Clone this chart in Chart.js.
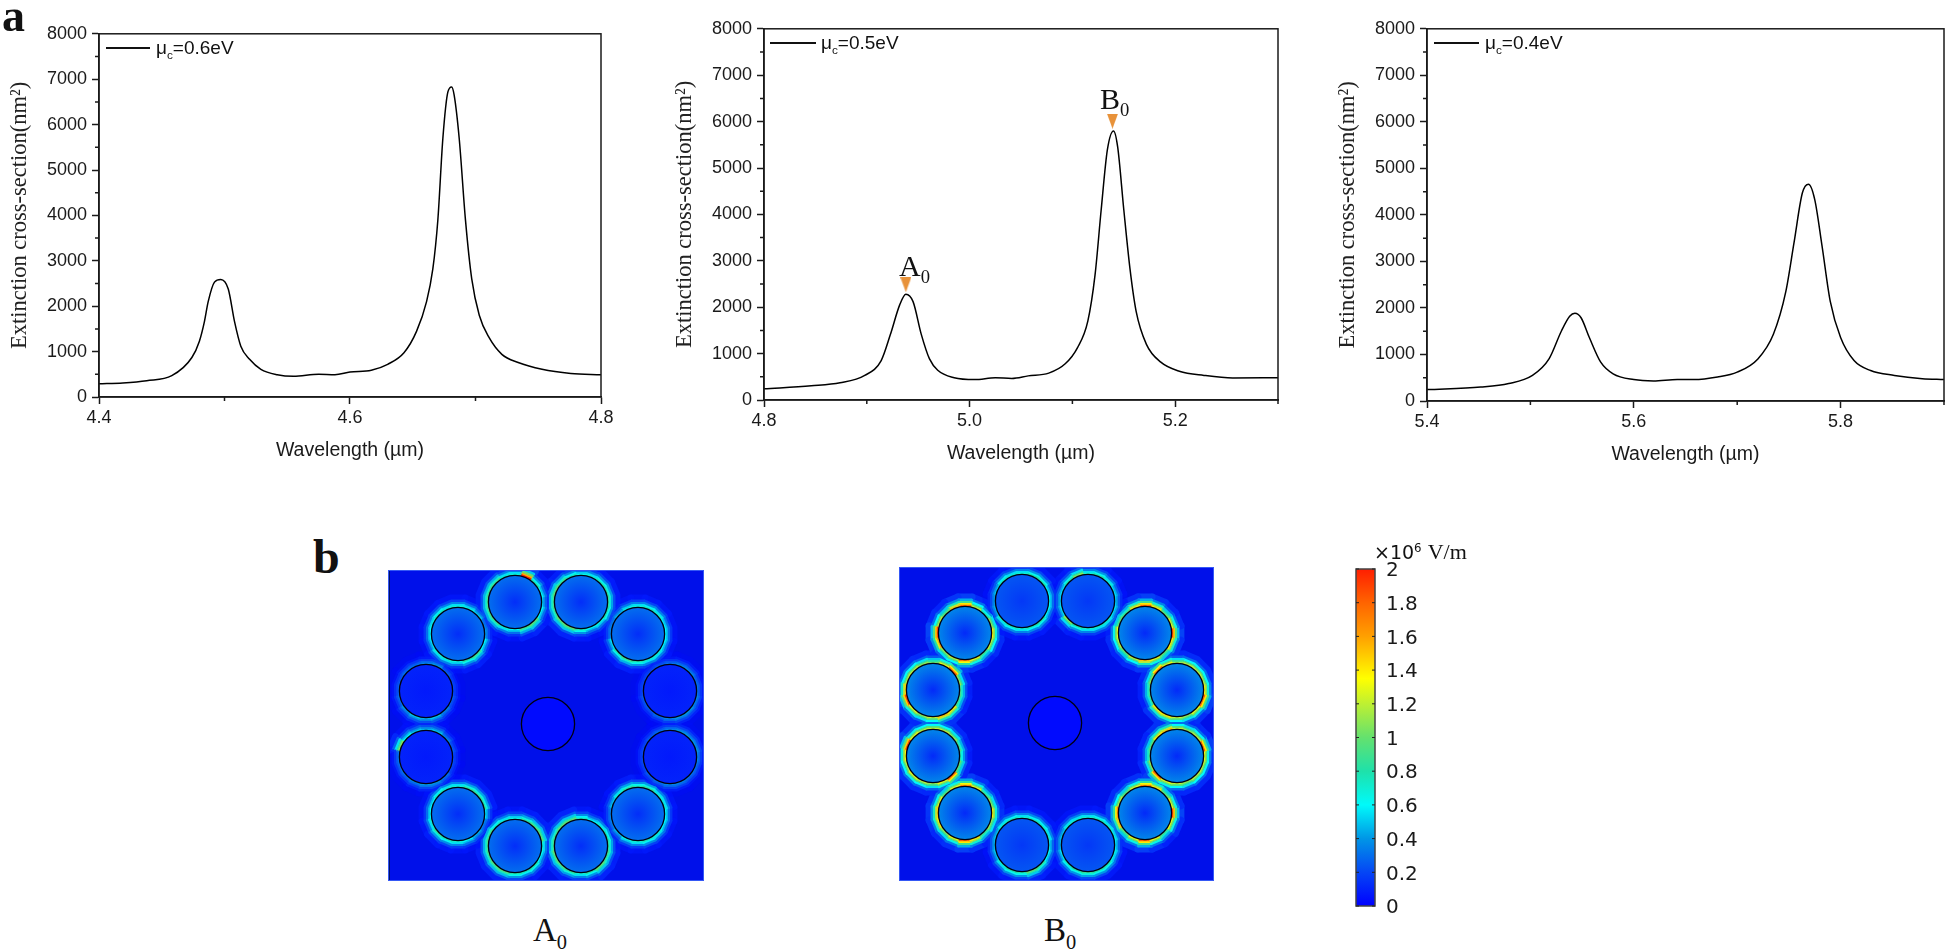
<!DOCTYPE html>
<html>
<head>
<meta charset="utf-8">
<title>Extinction cross-section</title>
<script src="https://cdn.jsdelivr.net/npm/chart.js@4"></script>
<style>
    html, body { margin: 0; background: #fff; width: 1946px; height: 950px; overflow: hidden; }
    canvas { position: absolute; }
    .lab { position: absolute; line-height: 1; white-space: nowrap; color: #111; }
    .serif { font-family: 'Liberation Serif', serif; }
    .sans { font-family: 'Liberation Sans', sans-serif; }
    .dejavu { font-family: 'DejaVu Sans', sans-serif; }
    .lab sub, .lab sup { line-height: 0; font-size: 62%; }
    .key { position: absolute; height: 2px; background: #111; }
    .heat { filter: blur(0.5px); outline: 1px solid #3558f5; outline-offset: -1px; }
</style>
</head>
<body>
<canvas id="c06"></canvas>
<canvas id="c05"></canvas>
<canvas id="c04"></canvas>
<canvas id="mapA" class="heat"></canvas>
<canvas id="mapB" class="heat"></canvas>
<canvas id="bar"></canvas>
<div style="position:absolute;left:389px;top:571px;width:1px;height:309px;background:#00106a"></div>

<div class="lab serif" style="left:2px;top:-7px;font-size:46px;font-weight:bold">a</div>
<div class="lab serif" style="left:313px;top:533px;font-size:48px;font-weight:bold">b</div>

<div class="key" style="left:106px;top:47px;width:44px"></div>
<div class="lab sans" style="left:156px;top:38px;font-size:19px">μ<sub>c</sub>=0.6eV</div>
<div class="key" style="left:770px;top:42px;width:46px"></div>
<div class="lab sans" style="left:821px;top:33px;font-size:19px">μ<sub>c</sub>=0.5eV</div>
<div class="key" style="left:1434px;top:42px;width:45px"></div>
<div class="lab sans" style="left:1485px;top:33px;font-size:19px">μ<sub>c</sub>=0.4eV</div>

<div class="lab serif" style="left:899px;top:251px;font-size:30px">A<sub>0</sub></div>
<div class="lab serif" style="left:1100px;top:84px;font-size:30px">B<sub>0</sub></div>
<div class="lab serif" style="left:533px;top:914px;font-size:33px">A<sub>0</sub></div>
<div class="lab serif" style="left:1044px;top:914px;font-size:33px">B<sub>0</sub></div>
<div class="lab dejavu" style="left:1374px;top:541px;font-size:19px">×10<sup>6</sup> <span class="serif" style="font-size:22px">V/m</span></div>

<script>
// spectra
const x06 = [4.4, 4.419, 4.438, 4.458, 4.474, 4.48, 4.484, 4.487, 4.492, 4.497, 4.503, 4.508, 4.513, 4.52, 4.529, 4.542, 4.555, 4.575, 4.588, 4.6, 4.617, 4.63, 4.643, 4.653, 4.661, 4.666, 4.67, 4.674, 4.678, 4.681, 4.683, 4.687, 4.692, 4.697, 4.703, 4.711, 4.721, 4.734, 4.753, 4.776, 4.8];
const y06 = [290, 310, 360, 470, 870, 1230, 1660, 2100, 2530, 2590, 2380, 1660, 1120, 830, 610, 490, 455, 500, 490, 550, 590, 720, 975, 1445, 2100, 2820, 3900, 5700, 6720, 6830, 6650, 5700, 3900, 2600, 1800, 1300, 940, 760, 610, 520, 490];

const x05 = [4.8, 4.846, 4.874, 4.898, 4.914, 4.923, 4.932, 4.938, 4.945, 4.953, 4.961, 4.969, 4.985, 5.005, 5.025, 5.041, 5.057, 5.077, 5.093, 5.105, 5.115, 5.122, 5.128, 5.134, 5.14, 5.144, 5.15, 5.156, 5.162, 5.172, 5.186, 5.204, 5.228, 5.256, 5.3];
const y05 = [240, 305, 370, 530, 850, 1415, 2050, 2280, 2120, 1415, 885, 640, 480, 440, 480, 465, 520, 580, 780, 1130, 1700, 2690, 4100, 5390, 5800, 5460, 4100, 2830, 1910, 1200, 815, 620, 530, 475, 480];

const x04 = [5.4, 5.452, 5.479, 5.502, 5.518, 5.53, 5.538, 5.543, 5.549, 5.557, 5.568, 5.58, 5.6, 5.619, 5.642, 5.658, 5.681, 5.7, 5.72, 5.735, 5.747, 5.755, 5.763, 5.769, 5.775, 5.782, 5.79, 5.8, 5.813, 5.829, 5.852, 5.879, 5.9];
const y04 = [245, 300, 375, 550, 905, 1505, 1820, 1885, 1790, 1365, 835, 585, 460, 430, 460, 460, 515, 620, 905, 1435, 2350, 3410, 4470, 4660, 4330, 3340, 2140, 1365, 870, 655, 550, 480, 460];

const yMajor = [0, 1000, 2000, 3000, 4000, 5000, 6000, 7000, 8000];
const yMinor = [500, 1500, 2500, 3500, 4500, 5500, 6500, 7500];
const xMajor06 = [4.4, 4.6, 4.8];
const xMinor06 = [4.5, 4.7];
const xMajor05 = [4.8, 5.0, 5.2];
const xMinor05 = [4.9, 5.1, 5.3];
const xMajor04 = [5.4, 5.6, 5.8];
const xMinor04 = [5.5, 5.7, 5.9];

const markerX = [4.938, 5.139];
const markerY = [2484, 6010];

// field maps: ring centres (nm-like units around the middle rod)
const ringX = [-33, 33, -90, 90, -122, 122, -122, 122, -90, 90, -33, 33];
const ringY = [122, 122, 90, 90, 33, 33, -33, -33, -90, -90, -122, -122];
const ringR = 26.6;

// field next to each ring, 16 sectors counter-clockwise from east (x10^6 V/m)
const fieldA = [
    [.5, .6, .8, 2, .7, .7, .9, .9, .9, .9, .9, .7, .6, .9, 1, .6],
    [.85, .85, .8, .7, .65, .75, .9, 1, .9, .9, 1, 1, .8, .6, .65, .8],
    [.4, .35, .5, .65, .7, .7, .75, .65, .6, .55, .7, .7, .65, .8, .9, .6],
    [.6, .6, .7, .75, .7, .65, .45, .35, .35, .55, .8, .9, .8, .7, .7, .6],
    [.2, .2, .25, .4, .35, .3, .3, .25, .25, .3, .4, .5, .45, .5, .35, .25],
    [.3, .3, .35, .35, .3, .25, .2, .2, .2, .25, .25, .3, .35, .4, .4, .35],
    [.2, .25, .35, .5, .45, .5, .6, 1.1, .3, .3, .3, .35, .4, .4, .3, .2],
    [.35, .4, .4, .4, .35, .3, .25, .2, .2, .2, .25, .3, .35, .35, .3, .3],
    [.55, .85, .85, .85, .7, .7, .75, .6, .6, .7, .85, .75, .7, .6, .45, .35],
    [.6, .7, .7, .85, .8, .85, .7, .5, .35, .35, .45, .65, .7, .75, .7, .6],
    [.7, 1, .95, .85, .65, .7, .75, .9, .9, .9, .95, .95, .8, .75, .8, .6],
    [.85, .8, .7, .6, .75, 1, 1, .9, .9, 1, .95, .85, .7, .8, 1, .9]
];
const fieldB = [
    [.6, .6, .8, .8, .7, .7, .75, .5, .4, .45, .7, .75, .7, .75, .8, .6],
    [.5, .55, .7, .8, .7, 1.1, .8, .55, .5, .55, 1.1, .8, .7, .7, .7, .55],
    [1.4, 1.1, .8, 1.2, 1.8, 1.5, 1, 1.2, 1.9, 1.6, 1.1, 1.2, 1.7, 1.3, .9, 1.2],
    [1.9, 1.3, 1, 1.4, 1.8, 1.4, .9, 1, 1.3, 1.2, 1, 1.2, 1.5, 1.3, 1, 1.4],
    [.9, 1.1, 1.8, 1.3, 1, 1.1, 1.2, 1.2, 1.5, 1.9, 1.3, 1.1, 1.2, 1.5, 1.4, .9],
    [1.4, 1.2, 1.2, 1.2, 1.1, 1.3, 1.7, 1.1, .9, .9, 1.4, 1.4, 1.2, 1.1, 1.3, 1.8],
    [.8, .9, 1.1, 1.2, 1.2, 1.2, 1.3, 1.9, 1.4, 1.2, 1.3, 1.2, 1.1, 1.3, 1.8, 1],
    [1.3, 1.8, 1.2, 1.1, 1.2, 1.5, 1.4, 1, .9, 1.1, 1.8, 1.3, 1.2, 1.1, 1.2, 1.2],
    [1.4, 1.1, .9, 1.3, 1.7, 1.3, 1, 1.3, 1.5, 1.4, 1.1, 1.3, 1.8, 1.4, .9, 1.1],
    [1.9, 1.3, 1, 1.4, 1.7, 1.3, 1, 1.2, 1.7, 1.5, 1, 1.3, 1.8, 1.3, .9, 1.3],
    [.55, .7, .75, .75, .7, .75, .7, .5, .45, .5, .7, .8, .8, 1, .85, .6],
    [.55, .65, .7, .75, .7, .7, .7, .5, .45, .55, .75, .8, .85, .8, .8, .65]
];
// inside each ring: value at the rim and at the centre (last entry is the middle rod)
const rimA = [.3, .3, .3, .3, .1, .1, .1, .1, .3, .3, .3, .3, .03];
const coreA = [.13, .13, .13, .13, .07, .07, .07, .07, .13, .13, .13, .13, .03];
const rimB = [.24, .24, .36, .36, .36, .36, .36, .36, .36, .36, .24, .24, .03];
const coreB = [.16, .16, .12, .12, .12, .12, .12, .12, .12, .12, .16, .16, .03];

// colour scale
const jetValues = [0, .2, .4, .6, .8, 1, 1.2, 1.35, 1.6, 1.8, 2];
const jetColors = [[0, 0, 255], [5, 70, 245], [0, 150, 230], [0, 250, 250], [30, 225, 170], [100, 225, 110], [190, 240, 50], [255, 255, 0], [255, 160, 0], [255, 100, 0], [255, 30, 0]];
const barTicks = [0, .2, .4, .6, .8, 1, 1.2, 1.4, 1.6, 1.8, 2];

const inkColor = '#1a1a1a';
const mapBackground = '#0010ea';

function jet(v, alpha) {
    v = Math.max(0, Math.min(2, v));
    let i = 0;
    while (i < jetValues.length - 2 && v > jetValues[i + 1]) i++;
    const t = (v - jetValues[i]) / (jetValues[i + 1] - jetValues[i]);
    const c = jetColors[i].map((a, n) => Math.round(a + (jetColors[i + 1][n] - a) * t));
    return 'rgba(' + c[0] + ',' + c[1] + ',' + c[2] + ',' + (alpha === undefined ? 1 : alpha) + ')';
}

function place(id, left, top, width, height) {
    const el = document.getElementById(id);
    el.width = width;
    el.height = height;
    el.style.left = left + 'px';
    el.style.top = top + 'px';
    return el;
}

// box round the plot and the short minor ticks
const framePlugin = {
    id: 'frame',
    afterDraw(chart, args, opts) {
        const a = chart.chartArea;
        const c = chart.ctx;
        c.save();
        c.strokeStyle = inkColor;
        c.lineWidth = 1.5;
        c.strokeRect(a.left, a.top, a.width, a.height);
        c.beginPath();
        opts.xMinor.forEach(v => {
            const p = chart.scales.x.getPixelForValue(v);
            c.moveTo(p, a.bottom);
            c.lineTo(p, a.bottom + 4);
        });
        opts.yMinor.forEach(v => {
            const p = chart.scales.y.getPixelForValue(v);
            c.moveTo(a.left, p);
            c.lineTo(a.left - 4, p);
        });
        c.stroke();
        c.restore();
    }
};

function triangleImage() {
    const t = document.createElement('canvas');
    t.width = 11;
    t.height = 15;
    const c = t.getContext('2d');
    c.fillStyle = '#e8923a';
    c.beginPath();
    c.moveTo(0, 0);
    c.lineTo(11, 0);
    c.lineTo(5.5, 15);
    c.closePath();
    c.fill();
    return t;
}

function spectrum(id, plot, xs, ys, xMajor, xMinor, extra) {
    const padLeft = 92, padTop = 10, padRight = 16, axisHeight = 65;
    const el = place(id, plot.l - padLeft, plot.t - padTop, plot.w + padLeft + padRight, plot.h + padTop + axisHeight);
    const datasets = [{
        data: xs.map((x, i) => ({ x: x, y: ys[i] })),
        borderColor: '#000',
        borderWidth: 1.5,
        pointRadius: 0,
        showLine: true,
        cubicInterpolationMode: 'monotone'
    }].concat(extra || []);
    new Chart(el, {
        type: 'scatter',
        data: { datasets: datasets },
        options: {
            responsive: false,
            animation: false,
            events: [],
            layout: { autoPadding: false, padding: { top: padTop, right: padRight } },
            plugins: {
                legend: { display: false },
                tooltip: { enabled: false },
                frame: { xMinor: xMinor, yMinor: yMinor }
            },
            scales: {
                x: {
                    type: 'linear',
                    min: xMajor[0],
                    max: xMinor[xMinor.length - 1] > xMajor[xMajor.length - 1] ? xMinor[xMinor.length - 1] : xMajor[xMajor.length - 1],
                    afterBuildTicks: s => { s.ticks = xMajor.map(v => ({ value: v })); },
                    afterFit: s => { s.height = axisHeight; },
                    grid: { drawOnChartArea: false, tickLength: 7, tickWidth: 1.5, tickColor: inkColor },
                    border: { color: inkColor, width: 1.5 },
                    ticks: {
                        autoSkip: false,
                        maxRotation: 0,
                        padding: 3,
                        color: inkColor,
                        font: { family: 'Liberation Sans', size: 18 },
                        callback: v => v.toFixed(1)
                    },
                    title: {
                        display: true,
                        text: 'Wavelength (µm)',
                        color: inkColor,
                        padding: 0,
                        font: { family: 'Liberation Sans', size: 19.5 }
                    }
                },
                y: {
                    min: 0,
                    max: 8000,
                    afterBuildTicks: s => { s.ticks = yMajor.map(v => ({ value: v })); },
                    afterFit: s => { s.width = padLeft; },
                    grid: { drawOnChartArea: false, tickLength: 7, tickWidth: 1.5, tickColor: inkColor },
                    border: { color: inkColor, width: 1.5 },
                    ticks: {
                        autoSkip: false,
                        padding: 5,
                        color: inkColor,
                        font: { family: 'Liberation Sans', size: 18 },
                        callback: v => String(v)
                    },
                    title: {
                        display: true,
                        text: 'Extinction cross-section(nm²)',
                        color: '#222',
                        padding: 0,
                        font: { family: 'Liberation Serif', size: 22.5 }
                    }
                }
            }
        },
        plugins: [framePlugin]
    });
}

spectrum('c06', { l: 99, t: 28, w: 502, h: 369 }, x06, y06, xMajor06, xMinor06);
spectrum('c05', { l: 764, t: 23, w: 514, h: 377 }, x05, y05, xMajor05, xMinor05, [{
    data: markerX.map((x, i) => ({ x: x, y: markerY[i] })),
    pointStyle: triangleImage(),
    pointRadius: 8,
    showLine: false
}]);
spectrum('c04', { l: 1427, t: 23, w: 517, h: 378 }, x04, y04, xMajor04, xMinor04);

// hot band hugging each ring: steps outward, fading with distance
const bandOffsets = [10, 7, 4.8, 2.8, 1.2];
const bandFades = [.1, .25, .5, .78, 1];
const bandWidths = [7, 3, 2.6, 2.2, 2];

function ringBand(cx, cy, values, offset, fade, width, order) {
    const pts = [];
    for (let i = 0; i <= values.length; i++) {
        // sector i is centred on its angle, so shift half a sector back
        const a = (i - 0.5) * 2 * Math.PI / values.length;
        pts.push({ x: cx + (ringR + offset) * Math.cos(a), y: cy + (ringR + offset) * Math.sin(a) });
    }
    return {
        data: pts,
        showLine: true,
        pointRadius: 0,
        borderWidth: width,
        borderCapStyle: 'round',
        order: order,
        segment: {
            borderColor: ctx => {
                const v = values[ctx.p0DataIndex % values.length] * fade;
                return jet(v, Math.min(1, v / 0.1));
            }
        }
    };
}

function fieldMap(id, box, xMin, xMax, yMin, yMax, field, rim, core) {
    const el = place(id, box.l, box.t, box.w, box.h);
    const xs = ringX.concat([0]);
    const ys = ringY.concat([0]);
    const datasets = [{
        data: xs.map((x, i) => ({ x: x, y: ys[i] })),
        order: 0,
        showLine: false,
        pointStyle: 'circle',
        pointBorderColor: '#000010',
        pointBorderWidth: 1.3,
        pointRadius: ctx => {
            const s = ctx.chart.scales.x;
            return s.getPixelForValue(ringR) - s.getPixelForValue(0);
        },
        pointBackgroundColor: ctx => {
            if (!ctx.raw) return mapBackground;
            const s = ctx.chart.scales;
            const px = s.x.getPixelForValue(ctx.raw.x);
            const py = s.y.getPixelForValue(ctx.raw.y);
            const r = s.x.getPixelForValue(ringR) - s.x.getPixelForValue(0);
            // scales have no pixels yet on the first pass
            if (!isFinite(px) || !isFinite(py) || !(r > 0)) return mapBackground;
            const g = ctx.chart.ctx.createRadialGradient(px, py, 0, px, py, r);
            g.addColorStop(0, jet(core[ctx.dataIndex]));
            g.addColorStop(1, jet(rim[ctx.dataIndex]));
            return g;
        }
    }];
    field.forEach((values, r) => {
        bandOffsets.forEach((off, b) => {
            datasets.push(ringBand(ringX[r], ringY[r], values, off, bandFades[b], bandWidths[b], bandOffsets.length - b));
        });
    });
    new Chart(el, {
        type: 'scatter',
        data: { datasets: datasets },
        options: {
            responsive: false,
            animation: false,
            events: [],
            layout: { autoPadding: false },
            plugins: { legend: { display: false }, tooltip: { enabled: false } },
            scales: {
                x: { type: 'linear', min: xMin, max: xMax, display: false },
                y: { min: yMin, max: yMax, display: false }
            }
        },
        plugins: [{
            id: 'mapFill',
            beforeDatasetsDraw(chart) {
                const a = chart.chartArea;
                chart.ctx.fillStyle = mapBackground;
                chart.ctx.fillRect(a.left, a.top, a.width, a.height);
            }
        }]
    });
}

fieldMap('mapA', { l: 388, t: 570, w: 316, h: 311 }, -160, 156, -157, 154, fieldA, rimA, coreA);
fieldMap('mapB', { l: 899, t: 567, w: 315, h: 314 }, -156, 159, -158, 156, fieldB, rimB, coreB);

// colour bar
const barEl = place('bar', 1350, 549, 90, 380);
new Chart(barEl, {
    type: 'bar',
    data: {
        labels: ['field'],
        datasets: [{
            data: [[0, 2]],
            barPercentage: 1,
            categoryPercentage: 1,
            backgroundColor: ctx => {
                const y = ctx.chart.scales.y;
                const y0 = y.getPixelForValue(0);
                const y1 = y.getPixelForValue(2);
                if (!isFinite(y0) || !isFinite(y1)) return '#00f';
                const g = ctx.chart.ctx.createLinearGradient(0, y0, 0, y1);
                jetValues.forEach((v, i) => g.addColorStop(v / 2, jet(v)));
                return g;
            }
        }]
    },
    options: {
        responsive: false,
        animation: false,
        events: [],
        layout: { autoPadding: false, padding: { left: 6, top: 20, bottom: 23 } },
        plugins: { legend: { display: false }, tooltip: { enabled: false } },
        scales: {
            x: { display: false },
            y: {
                position: 'right',
                min: 0,
                max: 2,
                afterBuildTicks: s => { s.ticks = barTicks.map(v => ({ value: v })); },
                afterFit: s => { s.width = 65; },
                grid: { display: false },
                border: { display: false },
                ticks: {
                    autoSkip: false,
                    padding: 3,
                    labelOffset: 2,
                    color: inkColor,
                    font: { family: 'DejaVu Sans', size: 20 },
                    callback: v => String(+v.toFixed(1))
                }
            }
        }
    },
    plugins: [{
        id: 'barFrame',
        afterDraw(chart) {
            const a = chart.chartArea;
            const c = chart.ctx;
            c.save();
            c.strokeStyle = '#444';
            c.lineWidth = 1.5;
            c.strokeRect(a.left, a.top, a.width, a.height);
            c.strokeStyle = '#222';
            c.lineWidth = 1;
            c.beginPath();
            barTicks.forEach(v => {
                const p = chart.scales.y.getPixelForValue(v);
                c.moveTo(a.left, p);
                c.lineTo(a.left + 3, p);
                c.moveTo(a.right, p);
                c.lineTo(a.right - 3, p);
            });
            c.stroke();
            c.restore();
        }
    }]
});
</script>
</body>
</html>
